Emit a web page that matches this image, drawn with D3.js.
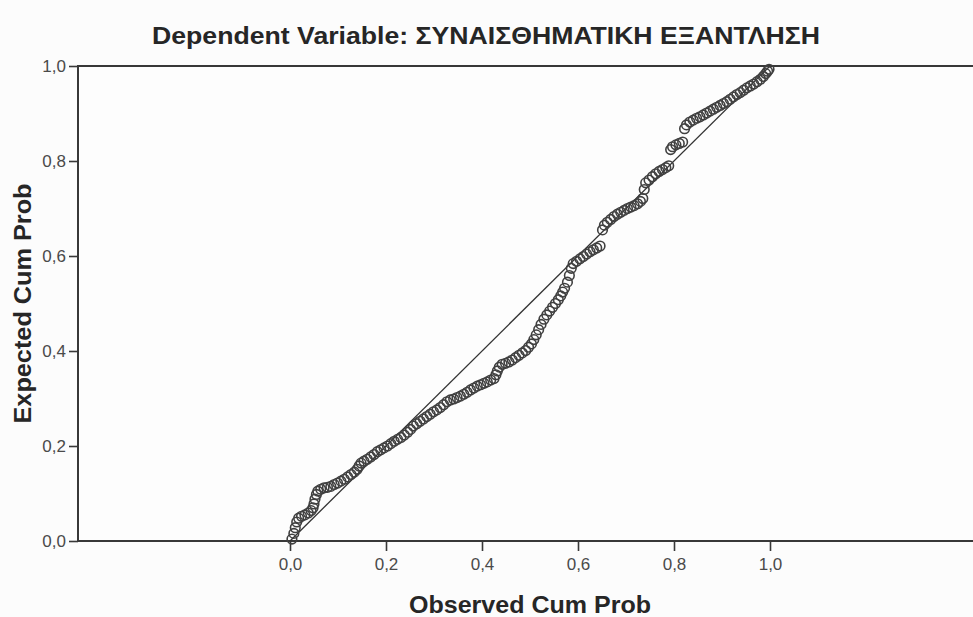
<!DOCTYPE html>
<html>
<head>
  <meta charset="utf-8">
  <title>Normal P-P Plot</title>
  <style>
    body { margin: 0; background: #fcfcfc; }
    svg { display: block; font-family: "Liberation Sans", Arial, sans-serif; }
    .tick text { fill: #4a4a4a; font-size: 17px; }
    .axis-title { font-weight: bold; font-size: 24px; fill: #262626; }
  </style>
  <script src="https://d3js.org/d3.v7.min.js"></script>
</head>
<body>
  <script>
    var title = 'Dependent Variable: ΣΥΝΑΙΣΘΗΜΑΤΙΚΗ ΕΞΑΝΤΛΗΣΗ';
    var xLabel = 'Observed Cum Prob';
    var yLabel = 'Expected Cum Prob';
    var ticks = [0, 0.2, 0.4, 0.6, 0.8, 1.0];

    // values, point by point
    var observed = [
      0.004, 0.008, 0.011, 0.014, 0.018, 0.024, 0.031, 0.038, 0.044, 0.048, 0.050, 0.052, 0.055, 0.058,
      0.064, 0.071, 0.078, 0.085, 0.092, 0.099, 0.106, 0.113, 0.120, 0.127, 0.134, 0.140, 0.144, 0.148,
      0.154, 0.161, 0.168, 0.175, 0.182, 0.189, 0.196, 0.203, 0.210, 0.217, 0.224, 0.231, 0.238, 0.245,
      0.251, 0.257, 0.264, 0.271, 0.278, 0.285, 0.292, 0.299, 0.306, 0.313, 0.320, 0.327, 0.334, 0.341,
      0.348, 0.355, 0.362, 0.369, 0.376, 0.383, 0.390, 0.397, 0.404, 0.411, 0.418, 0.425, 0.429, 0.432,
      0.436, 0.442, 0.449, 0.456, 0.463, 0.470, 0.477, 0.484, 0.491, 0.497, 0.503, 0.508, 0.513, 0.518,
      0.523, 0.529, 0.535, 0.541, 0.547, 0.553, 0.559, 0.564, 0.568, 0.572, 0.578, 0.582, 0.586, 0.590,
      0.597, 0.604, 0.611, 0.618, 0.625, 0.632, 0.639, 0.646, 0.651, 0.655, 0.661, 0.668, 0.675, 0.682,
      0.689, 0.696, 0.703, 0.710, 0.717, 0.724, 0.730, 0.735, 0.738, 0.741, 0.748, 0.755, 0.762, 0.769,
      0.776, 0.783, 0.789, 0.793, 0.797, 0.804, 0.811, 0.818, 0.822, 0.826, 0.833, 0.840, 0.847, 0.854,
      0.861, 0.868, 0.875, 0.882, 0.889, 0.896, 0.903, 0.910, 0.917, 0.924, 0.931, 0.938, 0.945, 0.952,
      0.959, 0.966, 0.973, 0.980, 0.986, 0.991, 0.995, 0.998
    ];
    var expected = [
      0.004, 0.016, 0.028, 0.040, 0.048, 0.052, 0.055, 0.059, 0.064, 0.070, 0.078, 0.088, 0.098, 0.105,
      0.109, 0.112, 0.113, 0.115, 0.119, 0.122, 0.126, 0.130, 0.135, 0.140, 0.145, 0.151, 0.158, 0.164,
      0.168, 0.172, 0.177, 0.182, 0.188, 0.192, 0.196, 0.200, 0.205, 0.210, 0.214, 0.218, 0.223, 0.229,
      0.235, 0.242, 0.247, 0.252, 0.257, 0.262, 0.267, 0.272, 0.276, 0.281, 0.287, 0.293, 0.297, 0.299,
      0.302, 0.305, 0.309, 0.313, 0.318, 0.322, 0.326, 0.329, 0.332, 0.335, 0.339, 0.342, 0.350, 0.358,
      0.366, 0.372, 0.374, 0.377, 0.381, 0.386, 0.391, 0.396, 0.401, 0.408, 0.415, 0.424, 0.434, 0.445,
      0.456, 0.467, 0.476, 0.484, 0.492, 0.500, 0.508, 0.516, 0.524, 0.532, 0.545, 0.559, 0.574, 0.584,
      0.589, 0.594, 0.599, 0.604, 0.609, 0.613, 0.617, 0.621, 0.655, 0.665, 0.671, 0.677, 0.683, 0.688,
      0.692, 0.696, 0.700, 0.703, 0.706, 0.710, 0.715, 0.721, 0.740, 0.754, 0.760, 0.767, 0.773, 0.778,
      0.782, 0.786, 0.790, 0.824, 0.830, 0.834, 0.837, 0.840, 0.868, 0.876, 0.882, 0.886, 0.890, 0.893,
      0.897, 0.901, 0.905, 0.909, 0.913, 0.917, 0.921, 0.925, 0.930, 0.935, 0.940, 0.944, 0.949, 0.954,
      0.958, 0.962, 0.967, 0.972, 0.978, 0.984, 0.989, 0.993
    ];

    var width = 973;
    var height = 617;
    var plot = {left: 78, right: 980, top: 66, bottom: 541};

    var svg = d3.select('body').append('svg')
      .attr('width', width)
      .attr('height', height);

    var x = d3.scaleLinear().domain([0, 1]).range([290, 770]);
    var y = d3.scaleLinear().domain([0, 1]).range([plot.bottom, plot.top]);

    var locale = d3.formatLocale({decimal: ',', thousands: '.', grouping: [3], currency: ['', '']});
    var fmt = locale.format('.1f');

    // frame
    svg.append('rect')
      .attr('x', plot.left)
      .attr('y', plot.top)
      .attr('width', plot.right - plot.left)
      .attr('height', plot.bottom - plot.top)
      .attr('fill', '#fdfdfd')
      .attr('stroke', '#383838')
      .attr('stroke-width', 2);

    // axes
    var xAxis = svg.append('g')
      .attr('transform', 'translate(0,' + plot.bottom + ')')
      .call(d3.axisBottom(x).tickValues(ticks).tickFormat(fmt).tickSize(10).tickPadding(7));
    xAxis.select('.domain').remove();
    xAxis.selectAll('.tick line').attr('stroke', '#383838').attr('stroke-width', 1.6);

    var yAxis = svg.append('g')
      .attr('transform', 'translate(' + plot.left + ',0)')
      .call(d3.axisLeft(y).tickValues(ticks).tickFormat(fmt).tickSize(9).tickPadding(3));
    yAxis.select('.domain').remove();
    yAxis.selectAll('.tick line').attr('stroke', '#383838').attr('stroke-width', 1.6);

    // reference diagonal
    svg.append('line')
      .attr('x1', x(0)).attr('y1', y(0))
      .attr('x2', x(1)).attr('y2', y(1))
      .attr('stroke', '#333')
      .attr('stroke-width', 1.3);

    svg.append('g')
      .selectAll('circle')
      .data(observed.map((d, i) => [d, expected[i]]))
      .enter()
      .append('circle')
        .attr('cx', d => x(d[0]))
        .attr('cy', d => y(d[1]))
        .attr('r', 4.8)
        .attr('fill', 'none')
        .attr('stroke', '#404040')
        .attr('stroke-width', 1.6);

    svg.append('text')
      .attr('class', 'axis-title')
      .attr('x', 486)
      .attr('y', 44)
      .attr('text-anchor', 'middle')
      .style('font-size', '23px')
      .attr('textLength', 668)
      .attr('lengthAdjust', 'spacingAndGlyphs')
      .text(title);

    svg.append('text')
      .attr('class', 'axis-title')
      .attr('x', 530)
      .attr('y', 613)
      .attr('text-anchor', 'middle')
      .attr('textLength', 242)
      .attr('lengthAdjust', 'spacingAndGlyphs')
      .text(xLabel);

    svg.append('text')
      .attr('class', 'axis-title')
      .attr('transform', 'translate(31,' + (plot.top + plot.bottom) / 2 + ') rotate(-90)')
      .attr('text-anchor', 'middle')
      .attr('textLength', 240)
      .attr('lengthAdjust', 'spacingAndGlyphs')
      .text(yLabel);
  </script>
</body>
</html>
